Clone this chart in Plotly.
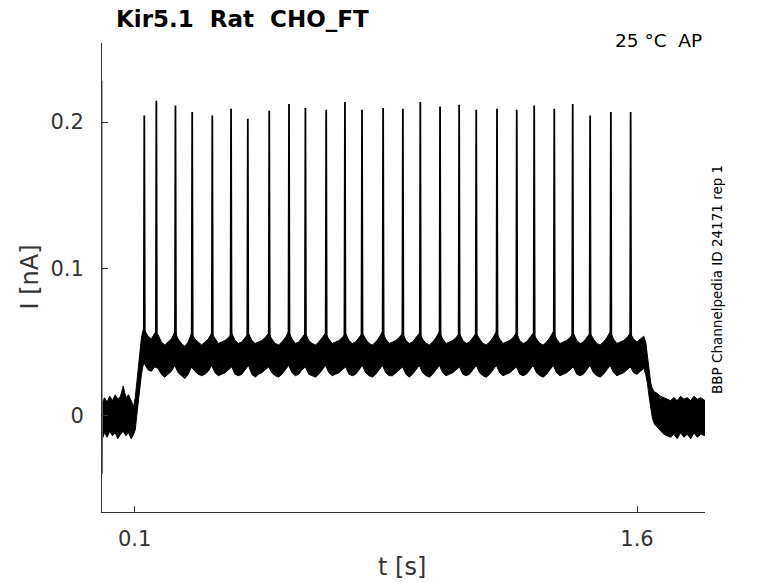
import plotly.graph_objects as go

# spike times (s) and peak currents (nA)
spike_t = [0.129, 0.165, 0.222, 0.272, 0.332, 0.388, 0.438, 0.502, 0.561,
           0.610, 0.672, 0.728, 0.779, 0.842, 0.901, 0.953, 1.012, 1.069,
           1.120, 1.182, 1.241, 1.293, 1.353, 1.408, 1.460, 1.522, 1.581]
spike_peak = [0.2046, 0.2146, 0.2114, 0.2069, 0.2046, 0.2092, 0.2023, 0.2078, 0.2124,
              0.2096, 0.2085, 0.2137, 0.2085, 0.2096, 0.2092, 0.2137, 0.2107, 0.2119,
              0.2085, 0.2092, 0.2085, 0.2114, 0.2092, 0.2124, 0.2046, 0.2069, 0.2069]

# start transient
trans_t = [0.0028, 0.0031, 0.0040]
trans_i = [0.228, -0.040, -0.006]

# noise band: time, upper and lower edge
band_t = [0.004, 0.010, 0.018, 0.026, 0.034, 0.042, 0.050, 0.058, 0.066, 0.074, 0.082, 0.090, 0.097,
          0.102, 0.108, 0.114, 0.120, 0.125,
          0.13, 0.14, 0.15, 0.16, 0.17, 0.18, 0.19, 0.20, 0.21, 0.22,
          0.23, 0.24, 0.25, 0.26, 0.27, 0.28, 0.29, 0.30, 0.31, 0.32,
          0.33, 0.34, 0.35, 0.36, 0.37, 0.38, 0.39, 0.40, 0.41, 0.42,
          0.43, 0.44, 0.45, 0.46, 0.47, 0.48, 0.49, 0.50, 0.51, 0.52,
          0.53, 0.54, 0.55, 0.56, 0.57, 0.58, 0.59, 0.60, 0.61, 0.62,
          0.63, 0.64, 0.65, 0.66, 0.67, 0.68, 0.69, 0.70, 0.71, 0.72,
          0.73, 0.74, 0.75, 0.76, 0.77, 0.78, 0.79, 0.80, 0.81, 0.82,
          0.83, 0.84, 0.85, 0.86, 0.87, 0.88, 0.89, 0.90, 0.91, 0.92,
          0.93, 0.94, 0.95, 0.96, 0.97, 0.98, 0.99, 1.00, 1.01, 1.02,
          1.03, 1.04, 1.05, 1.06, 1.07, 1.08, 1.09, 1.10, 1.11, 1.12,
          1.13, 1.14, 1.15, 1.16, 1.17, 1.18, 1.19, 1.20, 1.21, 1.22,
          1.23, 1.24, 1.25, 1.26, 1.27, 1.28, 1.29, 1.30, 1.31, 1.32,
          1.33, 1.34, 1.35, 1.36, 1.37, 1.38, 1.39, 1.40, 1.41, 1.42,
          1.43, 1.44, 1.45, 1.46, 1.47, 1.48, 1.49, 1.50, 1.51, 1.52,
          1.53, 1.54, 1.55, 1.56, 1.57, 1.58, 1.59, 1.60, 1.61, 1.62,
          1.626, 1.631, 1.636, 1.641, 1.646, 1.652, 1.66, 1.67, 1.68, 1.69,
          1.70, 1.71, 1.72, 1.73, 1.74, 1.75, 1.76, 1.77, 1.78, 1.79, 1.803]
band_hi = [0.008, 0.012, 0.009, 0.013, 0.010, 0.014, 0.011, 0.013, 0.020, 0.012, 0.014, 0.010, 0.006,
           0.012, 0.026, 0.040, 0.052, 0.058,
           0.058, 0.054, 0.052, 0.056, 0.055, 0.050, 0.048, 0.050, 0.052, 0.057,
           0.052, 0.049, 0.047, 0.050, 0.056, 0.052, 0.050, 0.048, 0.050, 0.052,
           0.056, 0.052, 0.049, 0.050, 0.051, 0.053, 0.056, 0.051, 0.049, 0.050,
           0.053, 0.056, 0.051, 0.049, 0.050, 0.051, 0.053, 0.056, 0.052, 0.049,
           0.048, 0.050, 0.053, 0.057, 0.052, 0.049, 0.050, 0.053, 0.056, 0.051,
           0.049, 0.048, 0.050, 0.053, 0.056, 0.052, 0.049, 0.050, 0.051, 0.053,
           0.056, 0.051, 0.049, 0.050, 0.053, 0.056, 0.052, 0.049, 0.048, 0.050,
           0.053, 0.057, 0.052, 0.049, 0.050, 0.051, 0.053, 0.056, 0.051, 0.049,
           0.050, 0.053, 0.056, 0.052, 0.049, 0.048, 0.050, 0.053, 0.057, 0.052,
           0.049, 0.050, 0.051, 0.053, 0.056, 0.051, 0.049, 0.050, 0.053, 0.056,
           0.052, 0.049, 0.048, 0.050, 0.053, 0.057, 0.052, 0.049, 0.050, 0.051,
           0.053, 0.056, 0.051, 0.049, 0.050, 0.053, 0.056, 0.052, 0.049, 0.048,
           0.050, 0.053, 0.057, 0.052, 0.049, 0.050, 0.051, 0.053, 0.056, 0.051,
           0.049, 0.050, 0.053, 0.056, 0.052, 0.049, 0.048, 0.050, 0.053, 0.057,
           0.052, 0.049, 0.050, 0.051, 0.053, 0.056, 0.052, 0.050, 0.052, 0.054,
           0.050, 0.040, 0.029, 0.022, 0.018, 0.016, 0.015, 0.013, 0.012, 0.011,
           0.010, 0.012, 0.010, 0.013, 0.011, 0.012, 0.010, 0.013, 0.011, 0.012, 0.010]
band_lo = [-0.016, -0.012, -0.015, -0.011, -0.014, -0.012, -0.016, -0.013, -0.011, -0.014, -0.012, -0.016, -0.013,
           -0.010, 0.003, 0.016, 0.027, 0.034,
           0.035, 0.031, 0.030, 0.033, 0.032, 0.028, 0.026, 0.028, 0.030, 0.034,
           0.029, 0.027, 0.025, 0.028, 0.033, 0.030, 0.028, 0.027, 0.028, 0.030,
           0.034, 0.029, 0.027, 0.028, 0.029, 0.031, 0.033, 0.028, 0.027, 0.028,
           0.031, 0.034, 0.028, 0.026, 0.028, 0.029, 0.031, 0.033, 0.029, 0.027,
           0.026, 0.028, 0.031, 0.034, 0.029, 0.027, 0.028, 0.031, 0.033, 0.028,
           0.027, 0.026, 0.028, 0.031, 0.034, 0.029, 0.027, 0.028, 0.029, 0.031,
           0.033, 0.028, 0.027, 0.028, 0.031, 0.034, 0.029, 0.027, 0.026, 0.028,
           0.031, 0.034, 0.029, 0.027, 0.027, 0.029, 0.031, 0.033, 0.028, 0.026,
           0.028, 0.031, 0.034, 0.029, 0.027, 0.026, 0.028, 0.031, 0.034, 0.029,
           0.027, 0.028, 0.029, 0.031, 0.033, 0.028, 0.027, 0.028, 0.031, 0.034,
           0.029, 0.027, 0.026, 0.028, 0.031, 0.034, 0.029, 0.027, 0.028, 0.029,
           0.031, 0.033, 0.028, 0.027, 0.028, 0.031, 0.034, 0.029, 0.027, 0.026,
           0.028, 0.031, 0.034, 0.029, 0.027, 0.028, 0.029, 0.031, 0.033, 0.028,
           0.027, 0.028, 0.031, 0.034, 0.029, 0.027, 0.026, 0.028, 0.031, 0.034,
           0.029, 0.027, 0.028, 0.029, 0.031, 0.033, 0.029, 0.028, 0.030, 0.032,
           0.028, 0.022, 0.013, 0.005, -0.002, -0.006, -0.008, -0.011, -0.013, -0.014,
           -0.015, -0.013, -0.016, -0.012, -0.015, -0.013, -0.016, -0.012, -0.015, -0.013, -0.014]

x_ticks = [0.1, 1.6]
x_labels = ["0.1", "1.6"]
y_ticks = [0, 0.1, 0.2]
y_labels = ["0", "0.1", "0.2"]

FONT = "DejaVu Sans"
AXC = "#333333"

fig = go.Figure()

# noise band (lower edge then filled upper edge)
fig.add_trace(go.Scatter(x=band_t, y=band_lo, mode="lines",
                         line=dict(color="black", width=1), hoverinfo="skip"))
fig.add_trace(go.Scatter(x=band_t, y=band_hi, mode="lines", fill="tonexty",
                         fillcolor="black", line=dict(color="black", width=1),
                         hoverinfo="skip"))

# start transient
fig.add_trace(go.Scatter(x=trans_t, y=trans_i, mode="lines",
                         line=dict(color="#555555", width=1), hoverinfo="skip"))

# spikes
sx, sy = [], []
for t, p in zip(spike_t, spike_peak):
    sx += [t - 0.0015, t, t + 0.0015, None]
    sy += [0.05, p, 0.05, None]
fig.add_trace(go.Scatter(x=sx, y=sy, mode="lines",
                         line=dict(color="black", width=1.8), hoverinfo="skip"))

fig.update_xaxes(range=[0.0027, 1.803], tickvals=x_ticks, ticktext=x_labels,
                 ticks="inside", ticklen=6, tickcolor=AXC, showline=True,
                 linecolor=AXC, linewidth=1, showgrid=False, zeroline=False,
                 tickfont=dict(family=FONT, size=21, color=AXC),
                 ticklabelstandoff=8)
fig.update_yaxes(range=[-0.066, 0.254], tickvals=y_ticks, ticktext=y_labels,
                 ticks="inside", ticklen=6, tickcolor=AXC, showline=True,
                 linecolor=AXC, linewidth=1, showgrid=False, zeroline=False,
                 tickfont=dict(family=FONT, size=21, color=AXC),
                 ticklabelstandoff=13)

nb = "\u00a0"
fig.add_annotation(text="<b>Kir5.1" + nb * 2 + "Rat" + nb * 2 + "CHO_FT</b>",
                   xref="paper", yref="paper", x=0.0205, y=1.051,
                   xanchor="left", yanchor="middle", showarrow=False,
                   font=dict(family=FONT, size=23, color="black"))
fig.add_annotation(text="25 °C" + nb * 2 + "AP", xref="paper", yref="paper",
                   x=0.9985, y=1.006, xanchor="right", yanchor="middle",
                   showarrow=False, font=dict(family=FONT, size=18.5, color="black"))
fig.add_annotation(text="BBP Channelpedia ID 24171 rep 1", xref="paper", yref="paper",
                   x=1.0199, y=0.497, textangle=-90, xanchor="center", yanchor="middle",
                   showarrow=False, font=dict(family=FONT, size=13.5, color="black"))
fig.add_annotation(text="I [nA]", xref="paper", yref="paper", x=-0.121, y=0.50,
                   textangle=-90, xanchor="center", yanchor="middle", showarrow=False,
                   font=dict(family=FONT, size=24, color=AXC))
fig.add_annotation(text="t [s]", xref="paper", yref="paper", x=0.4975, y=-0.117,
                   xanchor="center", yanchor="middle", showarrow=False,
                   font=dict(family=FONT, size=24, color=AXC))

fig.update_layout(width=778, height=583, showlegend=False,
                  margin=dict(l=102, r=73, t=43, b=71),
                  plot_bgcolor="white", paper_bgcolor="white")

fig.write_html("out.html", config={"displayModeBar": False},
               post_script="document.body.style.margin='0';")
